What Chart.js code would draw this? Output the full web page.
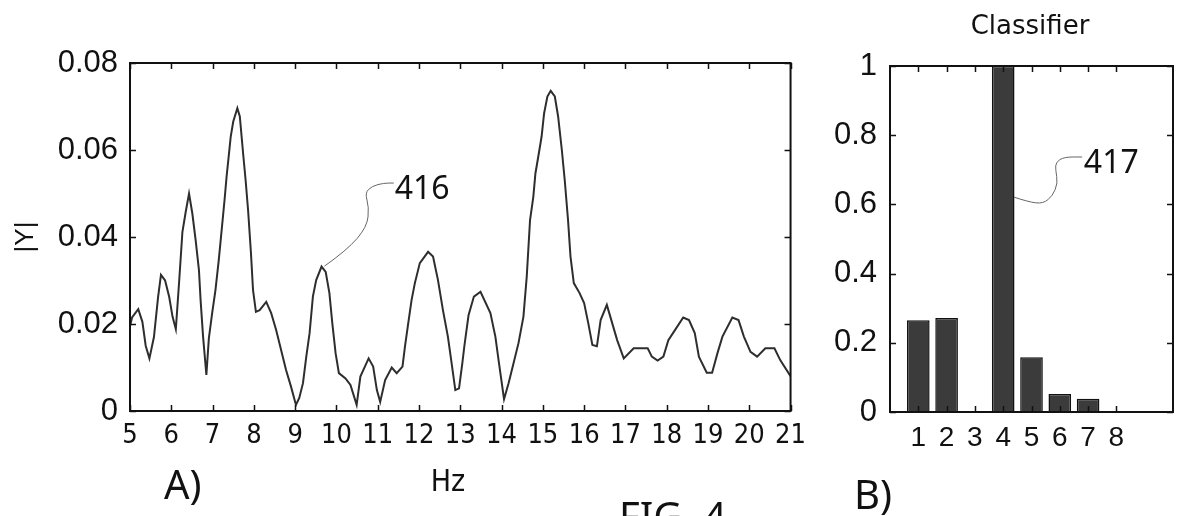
<!DOCTYPE html>
<html>
<head>
<meta charset="utf-8">
<script src="https://cdn.jsdelivr.net/npm/chart.js@4"></script>
<style>
  html, body { margin: 0; padding: 0; background: #fff; overflow: hidden; }
  body { width: 1182px; height: 516px; position: relative; }
  canvas { position: absolute; top: 0; }
  #cA { left: 0; }
  #cB { left: 820px; }
  .lbl { position: absolute; color: #111; line-height: 1; white-space: nowrap; }
</style>
</head>
<body>
<canvas id="cA" width="815" height="516"></canvas>
<canvas id="cB" width="362" height="516"></canvas>
<div class="lbl" style="left:164px; top:464px; font:40px 'Noto Sans'; line-height:1;">A)</div>
<div class="lbl" style="left:854px; top:474px; font:40px 'Noto Sans'; line-height:1;">B)</div>
<div class="lbl" style="left:619px; top:496px; font:40px 'Noto Sans'; line-height:1;">FIG. 4</div>
<div class="lbl" style="left:398px; top:466px; width:100px; text-align:center; font:30px 'DejaVu Sans Condensed', 'DejaVu Sans'; line-height:1;">Hz</div>
<div class="lbl" style="left:930px; top:12px; width:200px; text-align:center; font:26px 'DejaVu Sans'; line-height:1;">Classifier</div>
<script>
// spectrum, panel A
const hz = [5.00,5.05,5.20,5.30,5.38,5.47,5.58,5.68,5.75,5.85,5.95,6.03,6.11,6.19,6.27,6.35,6.43,6.51,6.59,6.67,
  6.71,6.77,6.85,6.91,6.99,7.07,7.15,7.22,7.29,7.34,7.39,7.44,7.50,7.60,7.66,7.74,7.80,7.86,7.93,7.98,
  8.05,8.14,8.30,8.42,8.54,8.66,8.78,8.90,9.02,9.10,9.19,9.27,9.35,9.43,9.51,9.64,9.74,9.83,9.90,9.98,
  10.06,10.22,10.34,10.49,10.58,10.78,10.89,10.98,11.06,11.18,11.34,11.46,11.60,11.66,11.74,11.82,11.90,12.02,12.22,12.34,
  12.46,12.58,12.70,12.78,12.88,12.97,13.05,13.10,13.20,13.33,13.49,13.73,13.85,13.93,14.06,14.17,14.29,14.41,14.53,14.61,
  14.69,14.77,14.82,14.89,14.97,15.03,15.11,15.19,15.29,15.37,15.46,15.53,15.61,15.67,15.75,15.89,16.00,16.10,16.20,16.31,
  16.40,16.55,16.68,16.80,16.96,17.20,17.54,17.64,17.78,17.92,18.04,18.20,18.40,18.54,18.68,18.78,18.97,19.10,19.23,19.35,
  19.59,19.74,19.87,20.03,20.19,20.39,20.61,20.75,21.00];
const mag = [0.0195,0.0215,0.0234,0.0205,0.0150,0.0121,0.0170,0.0262,0.0313,0.0300,0.0262,0.0217,0.0188,0.0297,0.0412,0.0458,0.0500,0.0454,0.0393,0.0324,
  0.0255,0.0171,0.0083,0.0167,0.0225,0.0278,0.0347,0.0416,0.0485,0.0539,0.0585,0.0631,0.0665,0.0696,0.0677,0.0592,0.0531,0.0462,0.0363,0.0278,
  0.0228,0.0232,0.0251,0.0225,0.0186,0.0140,0.0094,0.0056,0.0014,0.0030,0.0064,0.0125,0.0179,0.0263,0.0301,0.0332,0.0320,0.0271,0.0202,0.0133,
  0.0087,0.0075,0.0060,0.0014,0.0079,0.0121,0.0102,0.0048,0.0021,0.0071,0.0100,0.0087,0.0102,0.0148,0.0202,0.0255,0.0294,0.0340,0.0366,0.0355,
  0.0301,0.0232,0.0171,0.0117,0.0048,0.0052,0.0110,0.0150,0.0220,0.0263,0.0274,0.0225,0.0171,0.0115,0.0027,0.0064,0.0110,0.0156,0.0217,0.0309,
  0.0439,0.0493,0.0546,0.0585,0.0631,0.0684,0.0723,0.0736,0.0723,0.0677,0.0600,0.0531,0.0439,0.0355,0.0294,0.0271,0.0248,0.0202,0.0152,0.0149,
  0.0209,0.0244,0.0202,0.0163,0.0121,0.0144,0.0144,0.0125,0.0116,0.0125,0.0163,0.0186,0.0215,0.0209,0.0179,0.0125,0.0088,0.0088,0.0133,0.0171,
  0.0215,0.0209,0.0171,0.0136,0.0125,0.0144,0.0144,0.0117,0.0080];

// classifier output, panel B
const classes = [1, 2, 3, 4, 5, 6, 7, 8];
const scores = [0.265, 0.272, 0, 1.0, 0.158, 0.052, 0.038, 0];

// reference numerals and where their leader lines run (data units)
const lead416 = [[9.71,0.0333],[10.26,0.0370],[10.74,0.0423],[10.79,0.0469],[10.69,0.0501],[10.86,0.0517],[11.15,0.0524],[11.39,0.0524]];
const pos416 = [11.41, 0.0508];
const lead417 = [[4.38,0.621],[4.9,0.607],[5.41,0.602],[5.75,0.625],[5.93,0.662],[5.85,0.70],[5.86,0.722],[6.15,0.737],[6.79,0.737]];
const pos417 = [6.85, 0.718];

const narrow = "'DejaVu Sans Condensed', 'DejaVu Sans', sans-serif";
const plain = "'Liberation Sans'";
const ink = '#111';

// box + inward tick marks on all four sides
const boxTicks = {
  id: 'boxTicks',
  afterDatasetsDraw(chart, args, opts) {
    const {ctx, chartArea: a, scales: {x, y}} = chart;
    const len = 6;
    ctx.save();
    ctx.strokeStyle = ink;
    ctx.lineWidth = 1.5;
    ctx.beginPath();
    x.ticks.forEach(t => {
      if (opts.xKeep && !opts.xKeep(t.value)) return;
      const px = Math.round(x.getPixelForValue(t.value)) + 0.5;
      ctx.moveTo(px, a.bottom); ctx.lineTo(px, a.bottom - len);
      ctx.moveTo(px, a.top); ctx.lineTo(px, a.top + len);
    });
    y.ticks.forEach(t => {
      const py = Math.round(y.getPixelForValue(t.value)) + 0.5;
      ctx.moveTo(a.left, py); ctx.lineTo(a.left + len, py);
      ctx.moveTo(a.right, py); ctx.lineTo(a.right - len, py);
    });
    ctx.stroke();
    ctx.lineWidth = 2;
    ctx.strokeRect(a.left, a.top, a.right - a.left, a.bottom - a.top);
    ctx.restore();
  }
};

// curvy leader line with its numeral
const leader = {
  id: 'leader',
  afterDraw(chart, args, opts) {
    if (!opts.path) return;
    const {ctx, scales: {x, y}} = chart;
    const p = opts.path.map(d => [x.getPixelForValue(d[0]), y.getPixelForValue(d[1])]);
    ctx.save();
    ctx.strokeStyle = '#666';
    ctx.lineWidth = 1;
    ctx.beginPath();
    ctx.moveTo(p[0][0], p[0][1]);
    for (let i = 1; i < p.length - 1; i++) {
      const mx = (p[i][0] + p[i + 1][0]) / 2, my = (p[i][1] + p[i + 1][1]) / 2;
      ctx.quadraticCurveTo(p[i][0], p[i][1], mx, my);
    }
    ctx.lineTo(p[p.length - 1][0], p[p.length - 1][1]);
    ctx.stroke();
    ctx.fillStyle = ink;
    ctx.font = "32px 'Noto Sans', 'Open Sans', sans-serif";
    ctx.textBaseline = 'middle';
    ctx.textAlign = 'left';
    ctx.fillText(opts.text, x.getPixelForValue(opts.at[0]), y.getPixelForValue(opts.at[1]));
    ctx.restore();
  }
};

const noGrid = {display: false, drawTicks: false};
const trimNum = v => String(+v.toFixed(2));

new Chart(document.getElementById('cA'), {
  type: 'line',
  data: {
    datasets: [{
      data: hz.map((h, i) => ({x: h, y: mag[i]})),
      borderColor: '#2e2e2e',
      borderWidth: 2,
      pointRadius: 0,
      tension: 0,
      fill: false
    }]
  },
  options: {
    responsive: false,
    animation: false,
    layout: {padding: {top: 63, right: 17, left: 0, bottom: 0}},
    plugins: {
      legend: {display: false},
      tooltip: {enabled: false},
      boxTicks: {},
      leader: {path: lead416, at: pos416, text: '416'}
    },
    scales: {
      x: {
        type: 'linear', min: 5, max: 21,
        grid: noGrid, border: {display: false},
        ticks: {stepSize: 1, autoSkip: false, maxRotation: 0, padding: 9, color: ink, font: {family: narrow, size: 27}},
        afterFit(s) { s.height = 105; }
      },
      y: {
        min: 0, max: 0.08,
        grid: noGrid, border: {display: false},
        ticks: {stepSize: 0.02, padding: 12, color: ink, font: {family: plain, size: 31}, callback: trimNum},
        title: {display: true, text: '|Y|', color: ink, font: {family: plain, size: 26}, padding: {top: 10, bottom: 0}},
        afterFit(s) { s.width = 130; }
      }
    }
  },
  plugins: [boxTicks, leader]
});

new Chart(document.getElementById('cB'), {
  type: 'bar',
  data: {
    datasets: [{
      data: classes.map((c, i) => ({x: c, y: scores[i]})),
      backgroundColor: '#3b3b3b',
      borderColor: ink,
      borderWidth: 1.5,
      barPercentage: 1,
      categoryPercentage: 0.8
    }]
  },
  options: {
    responsive: false,
    animation: false,
    layout: {padding: {top: 66, right: 1, left: 0, bottom: 0}},
    plugins: {
      legend: {display: false},
      tooltip: {enabled: false},
      boxTicks: {xKeep: v => v >= 1 && v <= 8},
      leader: {path: lead417, at: pos417, text: '417'}
    },
    scales: {
      x: {
        type: 'linear', min: 0, max: 10, offset: false,
        grid: noGrid, border: {display: false},
        ticks: {stepSize: 1, autoSkip: false, maxRotation: 0, padding: 9, color: ink, font: {family: plain, size: 28},
          callback: v => (v >= 1 && v <= 8) ? String(v) : ''},
        afterFit(s) { s.height = 104; }
      },
      y: {
        min: 0, max: 1,
        grid: noGrid, border: {display: false},
        ticks: {stepSize: 0.2, padding: 13, color: ink, font: {family: plain, size: 31}, callback: trimNum},
        afterFit(s) { s.width = 70; }
      }
    }
  },
  plugins: [boxTicks, leader]
});
</script>
</body>
</html>
